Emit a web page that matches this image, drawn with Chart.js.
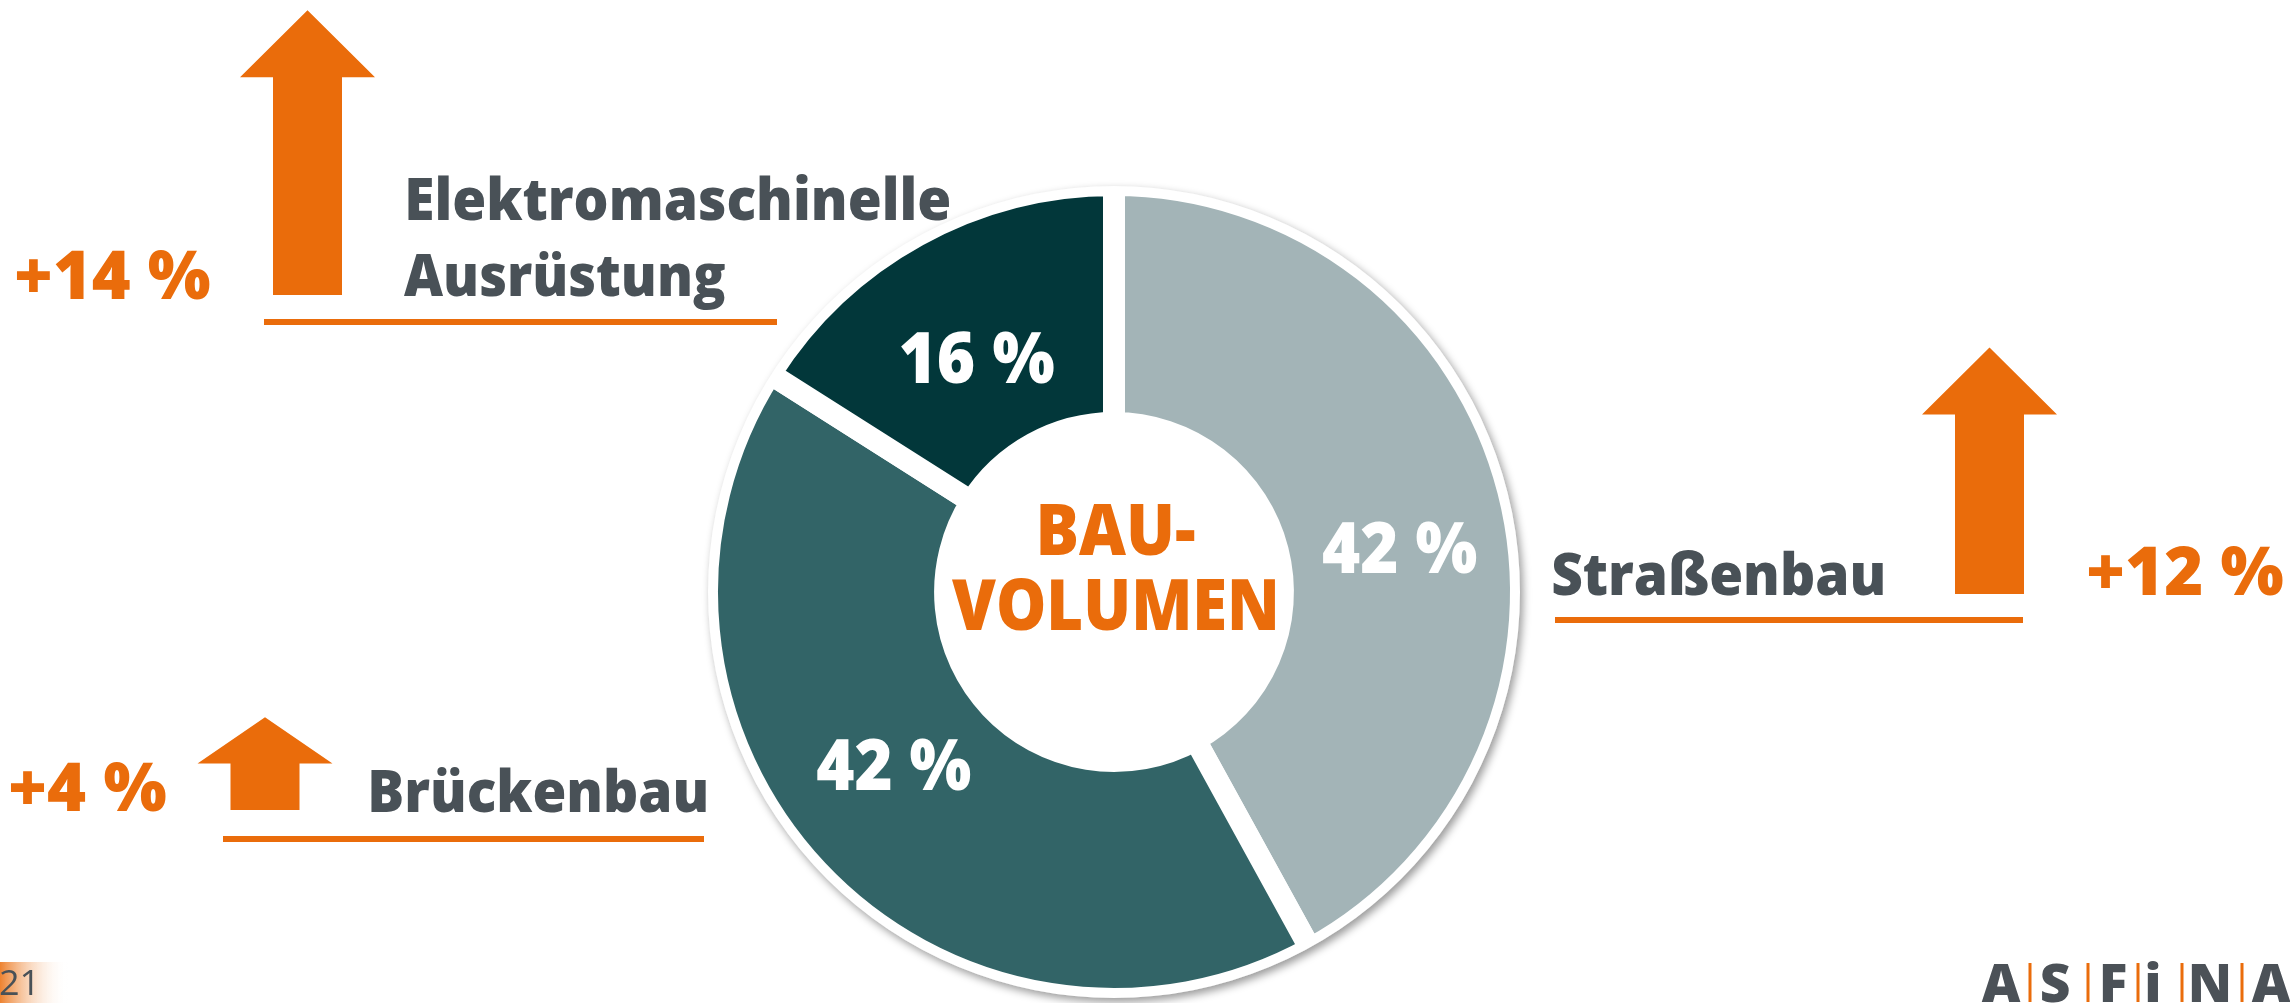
<!DOCTYPE html>
<html>
<head>
<meta charset="utf-8">
<script src="https://cdn.jsdelivr.net/npm/chart.js@4.4.0/dist/chart.umd.min.js"></script>
<style>
  html, body { margin: 0; padding: 0; background: #fff; overflow: hidden; }
  #wrap { position: relative; width: 2290px; height: 1003px; }
</style>
</head>
<body>
<div id="wrap"><canvas id="chart"></canvas></div>
<script>
// data
const categories = ['Straßenbau', 'Brückenbau', 'Elektromaschinelle Ausrüstung'];
const shares = [42, 42, 16];        // % of Bauvolumen
const growth = [12, 4, 14];         // % increase
const sliceColors = ['#a3b4b7', '#326467', '#02373a'];
const centerTitle = ['BAU-', 'VOLUMEN'];
const pageNumber = '21';
const logoLetters = ['A', 'S', 'F', 'i', 'N', 'A'];

const ORANGE = '#ea6c0b';
const GREY = '#495157';
const FONT = '"Open Sans", "Noto Sans", sans-serif';

// draws text so its ink spans left..right on the given baseline
function fitText(ctx, str, left, right, base, cap, color, weight) {
  ctx.font = `${weight || 800} ${cap / 0.714}px ${FONT}`;
  ctx.fillStyle = color;
  ctx.textAlign = 'left';
  ctx.textBaseline = 'alphabetic';
  const m = ctx.measureText(str);
  const ink = m.actualBoundingBoxLeft + m.actualBoundingBoxRight;
  ctx.save();
  ctx.translate(left, base);
  ctx.scale((right - left) / ink, 1);
  ctx.fillText(str, m.actualBoundingBoxLeft, 0);
  ctx.restore();
}

function arrow(ctx, cx, base, len) {
  const headH = Math.min(67, len / 2), headW = 135, shaftW = 69;
  const tip = base - len;
  ctx.beginPath();
  ctx.moveTo(cx - shaftW / 2, base);
  ctx.lineTo(cx - shaftW / 2, tip + headH);
  ctx.lineTo(cx - headW / 2, tip + headH);
  ctx.lineTo(cx, tip);
  ctx.lineTo(cx + headW / 2, tip + headH);
  ctx.lineTo(cx + shaftW / 2, tip + headH);
  ctx.lineTo(cx + shaftW / 2, base);
  ctx.closePath();
  ctx.fillStyle = ORANGE;
  ctx.fill();
}

// soft shadow round the outer white rim
const ringShadow = {
  id: 'ringShadow',
  afterDatasetsDraw(chart) {
    const ctx = chart.ctx;
    const arc = chart.getDatasetMeta(0).data[0];
    const r = arc.outerRadius - 1;
    ctx.save();
    ctx.beginPath();
    ctx.rect(0, 0, chart.width, chart.height);
    ctx.arc(arc.x, arc.y, r, 0, Math.PI * 2, true);
    ctx.clip('evenodd');
    ctx.beginPath();
    ctx.arc(arc.x, arc.y, r, 0, Math.PI * 2);
    ctx.shadowColor = 'rgba(0,0,0,0.4)';
    ctx.shadowBlur = 9;
    ctx.shadowOffsetX = 3;
    ctx.shadowOffsetY = 4;
    ctx.fillStyle = '#fff';
    ctx.fill();
    ctx.restore();
  }
};

// percentages inside the slices + centre title
const sliceLabels = {
  id: 'sliceLabels',
  afterDatasetsDraw(chart) {
    const ctx = chart.ctx;
    const meta = chart.getDatasetMeta(0);
    const nudge = [[7, 53], [-10, 1], [2, 43]];
    meta.data.forEach((arc, i) => {
      const p = arc.tooltipPosition();
      const cx = p.x + nudge[i][0];
      fitText(ctx, shares[i] + ' %', cx - 77, cx + 77, p.y + nudge[i][1], 50, '#ffffff');
    });
    const c = meta.data[0];
    fitText(ctx, centerTitle[0], c.x - 74, c.x + 81, c.y - 37, 51, ORANGE);
    fitText(ctx, centerTitle[1], c.x - 162, c.x + 161, c.y + 38, 50, ORANGE);
  }
};

// arrows, category names, growth figures, underlines, footer
const annotations = {
  id: 'annotations',
  afterDraw(chart) {
    const ctx = chart.ctx;
    const PX_PER_PCT = 19.2, ARROW_MIN = 16;
    const blocks = [
      { ax: 1989.5, ab: 594, line: [1555, 2023, 620], names: [[1553, 1883, 595]], pct: [2089, 2283, 595] },
      { ax: 265, ab: 810, line: [223, 704, 839], names: [[371, 706, 812]], pct: [11, 166, 811] },
      { ax: 307.5, ab: 295, line: [264, 777, 322], names: [[408, 949, 220], [404, 725, 296]], pct: [17, 210, 299] }
    ];
    blocks.forEach((b, i) => {
      arrow(ctx, b.ax, b.ab, ARROW_MIN + growth[i] * PX_PER_PCT);
      ctx.fillStyle = ORANGE;
      ctx.fillRect(b.line[0], b.line[2] - 3, b.line[1] - b.line[0], 6);
      const words = categories[i].split(' ');
      b.names.forEach((n, k) => fitText(ctx, words[k], n[0], n[1], n[2], 42, GREY));
      fitText(ctx, '+' + growth[i] + ' %', b.pct[0], b.pct[1], b.pct[2], 48, ORANGE);
    });

    // page number tab
    const g = ctx.createLinearGradient(0, 0, 68, 0);
    g.addColorStop(0, 'rgba(234,108,11,0.85)');
    g.addColorStop(1, 'rgba(255,255,255,0)');
    ctx.fillStyle = g;
    ctx.fillRect(0, 962, 68, 41);
    fitText(ctx, pageNumber, 0, 33, 995, 25, GREY, 400);

    // logo
    ctx.font = `800 ${38 / 0.714}px ${FONT}`;
    ctx.textAlign = 'center';
    ctx.textBaseline = 'alphabetic';
    ctx.fillStyle = '#4b5157';
    const lx = [2001, 2055, 2113, 2153, 2210, 2271];
    logoLetters.forEach((l, i) => ctx.fillText(l, lx[i], 1002));
    ctx.fillStyle = ORANGE;
    [2030, 2088, 2138, 2182, 2242].forEach(x => ctx.fillRect(x - 1.5, 963, 3, 39));
  }
};

new Chart(document.getElementById('chart'), {
  type: 'doughnut',
  data: {
    labels: categories,
    datasets: [{
      data: shares,
      backgroundColor: sliceColors,
      borderColor: '#ffffff',
      borderWidth: 22,
      borderJoinStyle: 'miter',
      hoverOffset: 0
    }]
  },
  options: {
    responsive: true,
    maintainAspectRatio: false,
    animation: false,
    events: [],
    radius: 407,
    cutout: '41.5%',
    layout: { padding: { left: 0, right: 62, top: 181, bottom: 0 } },
    plugins: {
      legend: { display: false },
      tooltip: { enabled: false }
    }
  },
  plugins: [ringShadow, sliceLabels, annotations]
});
</script>
</body>
</html>
